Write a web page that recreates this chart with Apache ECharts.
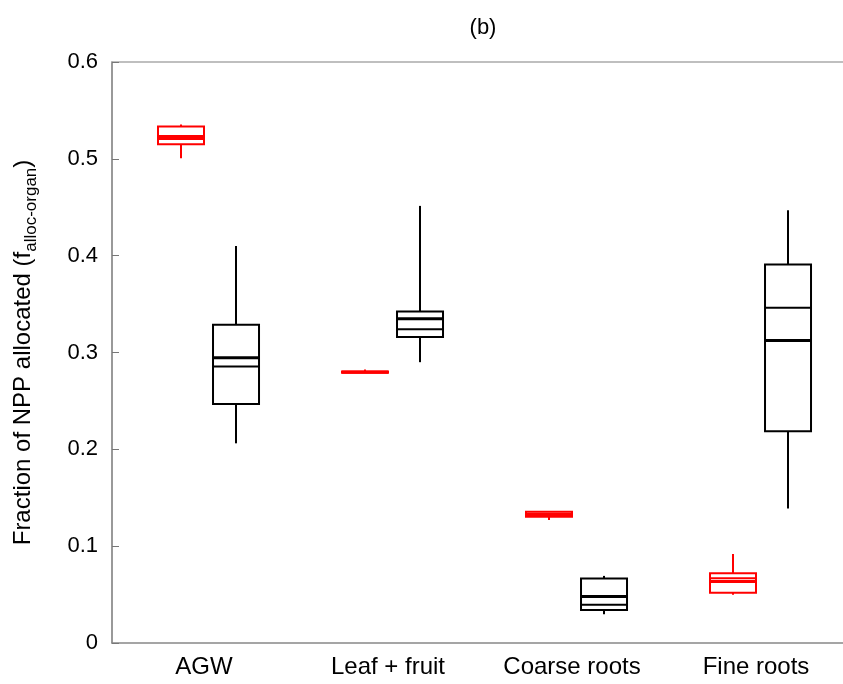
<!DOCTYPE html>
<html>
<head>
<meta charset="utf-8">
<script src="https://cdn.jsdelivr.net/npm/echarts@6/dist/echarts.min.js"></script>
<style>
  html, body { margin: 0; padding: 0; background: #fff; }
  #main { width: 843px; height: 684px; }
</style>
</head>
<body>
<div id="main"></div>
<script type="text/javascript">
    // categories and y ticks
    var categories = ['AGW', 'Leaf + fruit', 'Coarse roots', 'Fine roots'];
    var yTicks = [0, 0.1, 0.2, 0.3, 0.4, 0.5, 0.6];

    // red boxes: [min, q1, median, mean, q3, max]
    var redMin    = [0.5007, 0.2790, 0.1270, 0.0497];
    var redQ1     = [0.5150, 0.2792, 0.1305, 0.0520];
    var redMedian = [0.5230, 0.2797, 0.1325, 0.0634];
    var redMean   = [0.5205, 0.2800, 0.1335, 0.0669];
    var redQ3     = [0.5334, 0.2805, 0.1355, 0.0721];
    var redMax    = [0.5355, 0.2825, 0.1358, 0.0920];

    // black boxes
    var blackMin    = [0.2062, 0.2900, 0.0297, 0.1389];
    var blackQ1     = [0.2469, 0.3159, 0.0341, 0.2186];
    var blackMedian = [0.2945, 0.3349, 0.0479, 0.3124];
    var blackMean   = [0.2855, 0.3241, 0.0396, 0.3462];
    var blackQ3     = [0.3286, 0.3424, 0.0665, 0.3910];
    var blackMax    = [0.4100, 0.4514, 0.0693, 0.4469];

    function rows(mn, q1, md, mu, q3, mx) {
        return categories.map(function (c, i) {
            return [i, mn[i], q1[i], md[i], mu[i], q3[i], mx[i]];
        });
    }

    // draws one box with two inner lines and whiskers (no caps)
    function boxRenderer(color, shift) {
        return function (params, api) {
            var band = api.size([1, 0])[0];
            var w = band * 0.25;
            var c = api.coord([api.value(0), 0]);
            var x = c[0] + band * shift;
            var y = function (k) { return api.coord([api.value(0), api.value(k)])[1]; };
            var yMin = y(1), yQ1 = y(2), yMed = y(3), yMean = y(4), yQ3 = y(5), yMax = y(6);
            var st = { stroke: color, lineWidth: 2, fill: null };
            return {
                type: 'group',
                children: [
                    { type: 'line', shape: { x1: x, y1: yMax, x2: x, y2: yQ3 }, style: st },
                    { type: 'line', shape: { x1: x, y1: yQ1, x2: x, y2: yMin }, style: st },
                    { type: 'rect', shape: { x: x - w / 2, y: yQ3, width: w, height: Math.max(yQ1 - yQ3, 0.5) }, style: st },
                    { type: 'line', shape: { x1: x - w / 2, y1: yMed, x2: x + w / 2, y2: yMed }, style: { stroke: color, lineWidth: 3 } },
                    { type: 'line', shape: { x1: x - w / 2, y1: yMean, x2: x + w / 2, y2: yMean }, style: st }
                ]
            };
        };
    }

    var myChart = echarts.init(document.getElementById('main'));

    var option = {
        animation: false,
        backgroundColor: '#fff',
        textStyle: { fontFamily: 'Liberation Sans, Arial, sans-serif' },
        title: {
            text: '(b)',
            left: 478,
            top: 12,
            textAlign: 'center',
            textStyle: { fontSize: 22, fontWeight: 'normal', color: '#000', fontFamily: 'Liberation Sans' }
        },
        grid: { left: 112, right: -5, top: 62, bottom: 41, outerBoundsMode: 'none', containLabel: false },
        xAxis: [{
            type: 'category',
            data: categories,
            position: 'bottom',
            axisLine: { lineStyle: { color: '#888', width: 1.5 } },
            axisTick: { inside: true, length: 7, alignWithLabel: true, lineStyle: { color: '#555' } },
            axisLabel: { fontSize: 24, color: '#000', margin: 12 },
            splitLine: { show: false }
        }, {
            type: 'category',
            data: categories,
            position: 'top',
            axisLine: { lineStyle: { color: '#aaa', width: 1.5 } },
            axisTick: { inside: true, length: 7, alignWithLabel: true, lineStyle: { color: '#555' } },
            axisLabel: { show: false },
            splitLine: { show: false }
        }],
        yAxis: {
            type: 'value',
            min: yTicks[0],
            max: yTicks[yTicks.length - 1],
            interval: 0.1,
            axisLine: { show: true, lineStyle: { color: '#777', width: 1.5 } },
            axisTick: { show: true, inside: true, length: 7, lineStyle: { color: '#777' } },
            axisLabel: { fontSize: 22, color: '#000', margin: 14, formatter: function (v) { return +v.toFixed(1) + ''; } },
            splitLine: { show: false },
            name: '{a|Fraction of NPP allocated (f}{b|alloc-organ}{a|)}',
            nameLocation: 'middle',
            nameGap: 72,
            nameTextStyle: {
                rich: {
                    a: { fontSize: 24, color: '#000', lineHeight: 34, verticalAlign: 'middle' },
                    b: { fontSize: 17, color: '#000', lineHeight: 34, verticalAlign: 'bottom', padding: [12, 0, 0, 0] }
                }
            }
        },
        series: [{
            name: 'red',
            type: 'custom',
            renderItem: boxRenderer('#ff0000', -0.125),
            encode: { x: 0, y: [1, 2, 3, 4, 5, 6] },
            data: rows(redMin, redQ1, redMedian, redMean, redQ3, redMax),
            z: 3
        }, {
            name: 'black',
            type: 'custom',
            renderItem: boxRenderer('#000000', 0.174),
            encode: { x: 0, y: [1, 2, 3, 4, 5, 6] },
            data: rows(blackMin, blackQ1, blackMedian, blackMean, blackQ3, blackMax),
            z: 3
        }]
    };

    myChart.setOption(option);
</script>
</body>
</html>
